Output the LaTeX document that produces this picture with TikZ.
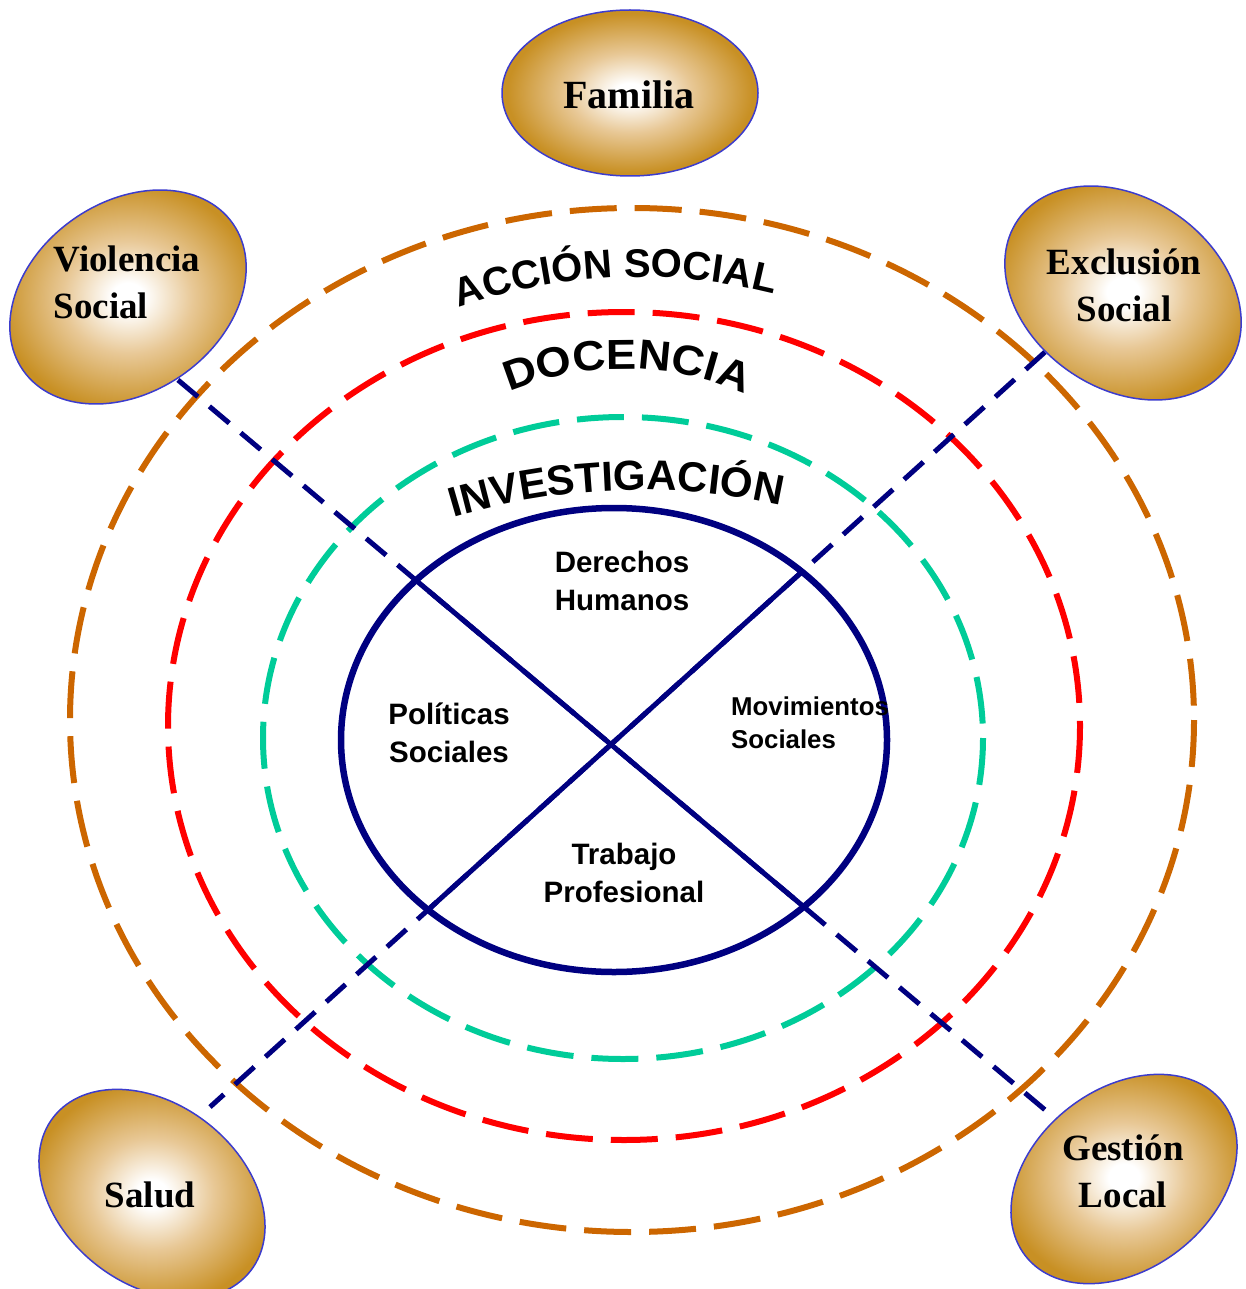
\documentclass[tikz,border=0pt]{standalone}
\usepackage{fontspec}
\setmainfont{Liberation Serif}
\newfontfamily\sansfnt{Liberation Sans}
\newfontfamily\sanswide{Liberation Sans}[FakeStretch=1.08]
\usetikzlibrary{shapes.geometric,decorations.text}
\definecolor{goldc}{RGB}{200,144,36}
\definecolor{tanc}{RGB}{232,200,150}
\definecolor{rimblue}{RGB}{60,60,205}
\definecolor{ringorange}{RGB}{204,102,0}
\definecolor{ringred}{RGB}{255,0,0}
\definecolor{ringgreen}{RGB}{0,204,153}
\definecolor{navy}{RGB}{0,0,128}
\pgfdeclareradialshading{goldglow}{\pgfpoint{0bp}{0bp}}{color(0bp)=(white); color(3bp)=(white); color(12bp)=(tanc); color(24bp)=(goldc); color(50bp)=(goldc)}
\tikzset{
  ring/.style={line width=6pt, dash pattern=on 47pt off 18pt},
  crossdash/.style={navy, line width=5pt, dash pattern=on 26pt off 15pt},
  crosssolid/.style={navy, line width=5pt},
  goldnode/.style={ellipse, draw=rimblue, line width=1.5pt, shade, shading=goldglow, inner sep=0pt},
  goldtext/.style={font=\bfseries\fontsize{37}{47}\selectfont, align=center, inner sep=0pt},
  coretext/.style={font=\sansfnt\bfseries\fontsize{29.5}{38}\selectfont, align=center, inner sep=0pt},
}
\begin{document}
\begin{tikzpicture}[x=1pt,y=-1pt]
\useasboundingbox (0,0) rectangle (1245,1289);
% rings
\draw[ring, ringorange] (632,720) ellipse [x radius=562, y radius=512];
\draw[ring, ringred] (624,726) ellipse [x radius=456, y radius=414];
\draw[ring, ringgreen] (623,738) ellipse [x radius=360, y radius=321];
% arc labels
\path[decorate, decoration={text along path, text align=center,
  text={|\sansfnt\bfseries\fontsize{40}{48}\selectfont|ACCIÓN SOCIAL}}]
  (640,822) ++(247.4:545) arc[start angle=247.4, end angle=287.4, radius=545];
\path[decorate, decoration={text along path, text align=center,
  text={|\sanswide\bfseries\fontsize{42}{50}\selectfont|DOCENCIA}}]
  (625,669) ++(240.4:300) arc[start angle=240.4, end angle=300.4, radius=300];
\path[decorate, decoration={text along path, text align=center,
  text={|\sansfnt\bfseries\fontsize{42}{50}\selectfont|INVESTIGACIÓN}}]
  (640,1140) ++(247.9:650) arc[start angle=247.9, end angle=287.9, radius=650];
% cross connectors
\coordinate (l1a) at (178,380);
\coordinate (l1b) at (1063,1125);
\coordinate (l2a) at (1045,352);
\coordinate (l2b) at (210,1107);
\draw[crossdash] (l1a) -- (l1b);
\draw[crossdash] (l2a) -- (l2b);
% core
\node[ellipse, draw=navy, line width=6.5pt, minimum width=546pt, minimum height=464pt, inner sep=0pt] (core) at (614,740) {};
\begin{scope}
  \clip (614,740) ellipse [x radius=273, y radius=232];
  \draw[crosssolid] (l1a) -- (l1b);
  \draw[crosssolid] (l2a) -- (l2b);
\end{scope}
\node[coretext] (dh) at (622,581) {Derechos\\Humanos};
\node[coretext] (ps) at (449,733) {Políticas\\Sociales};
\node[coretext] (tp) at (624,873) {Trabajo\\Profesional};
\node[coretext, font=\sansfnt\bfseries\fontsize{25.8}{33}\selectfont, align=left, anchor=west] (ms) at (731,723) {Movimientos\\Sociales};
% outer gold nodes
\node[goldnode, minimum width=256pt, minimum height=166pt] (fam) at (630,93) {};
\node[goldtext, font=\bfseries\fontsize{40}{48}\selectfont] (famt) at (629,95) {Familia};
\node[goldnode, minimum width=256pt, minimum height=190pt, rotate=35] (viol) at (128,297) {};
\node[goldtext, align=left] (violt) at (127,282) {Violencia\\Social};
\node[goldnode, minimum width=256pt, minimum height=190pt, rotate=-35] (excl) at (1123,293) {};
\node[goldtext] (exclt) at (1124,285) {Exclusión\\Social};
\node[goldnode, minimum width=250pt, minimum height=180pt, rotate=-38] (salud) at (152,1194) {};
\node[goldtext] (saludt) at (150,1195) {Salud};
\node[goldnode, minimum width=250pt, minimum height=180pt, rotate=38] (gest) at (1124,1179) {};
\node[goldtext] (gestt) at (1123,1171) {Gestión\\Local};
\end{tikzpicture}
\end{document}
